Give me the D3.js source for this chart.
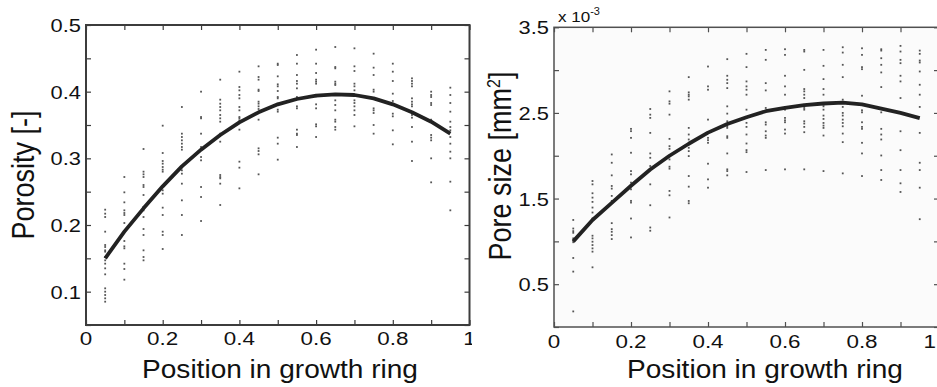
<!DOCTYPE html>
<html>
<head>
<meta charset="utf-8">
<script src="https://cdn.jsdelivr.net/npm/d3@7"></script>
<style>
  body { margin: 0; background: #fff; }
  svg { display: block; }
  text { font-family: "Liberation Sans", Arial, sans-serif; fill: #111; }
</style>
</head>
<body>
<svg id="chart" width="937" height="387"></svg>
<script>
// positions of the sample columns (fraction of growth ring)
const positions = [0.05, 0.10, 0.15, 0.20, 0.25, 0.30, 0.35, 0.40, 0.45, 0.50,
                   0.55, 0.60, 0.65, 0.70, 0.75, 0.80, 0.85, 0.90, 0.95];

// fitted curves
const porosityFit = [0.150, 0.190, 0.225, 0.258, 0.288, 0.313, 0.335, 0.354, 0.369, 0.381,
                     0.389, 0.394, 0.396, 0.395, 0.390, 0.381, 0.369, 0.355, 0.337];
const poreFit = [1.00, 1.25, 1.45, 1.65, 1.84, 2.00, 2.14, 2.27, 2.37, 2.45,
                 2.52, 2.56, 2.59, 2.61, 2.62, 2.60, 2.55, 2.50, 2.44];

// porosity samples per column [-]
const porositySamples = [
  [0.223, 0.217, 0.212, 0.19, 0.17, 0.167, 0.162, 0.16, 0.152, 0.147, 0.142, 0.135, 0.126, 0.105, 0.1, 0.095, 0.09, 0.085],
  [0.272, 0.249, 0.234, 0.222, 0.218, 0.215, 0.203, 0.176, 0.168, 0.165, 0.142, 0.134, 0.118],
  [0.314, 0.28, 0.276, 0.272, 0.26, 0.257, 0.245, 0.227, 0.222, 0.212, 0.194, 0.185, 0.162, 0.152, 0.147],
  [0.349, 0.308, 0.296, 0.292, 0.287, 0.283, 0.28, 0.252, 0.247, 0.226, 0.215, 0.19, 0.185, 0.164],
  [0.377, 0.337, 0.332, 0.327, 0.322, 0.317, 0.313, 0.282, 0.277, 0.262, 0.237, 0.215, 0.185],
  [0.4, 0.362, 0.36, 0.337, 0.317, 0.302, 0.297, 0.257, 0.242, 0.206],
  [0.418, 0.388, 0.382, 0.377, 0.372, 0.365, 0.36, 0.355, 0.337, 0.325, 0.275, 0.272, 0.27, 0.262, 0.23],
  [0.43, 0.407, 0.402, 0.395, 0.39, 0.377, 0.372, 0.362, 0.36, 0.357, 0.343, 0.295, 0.286, 0.255],
  [0.438, 0.422, 0.418, 0.403, 0.401, 0.385, 0.382, 0.378, 0.374, 0.358, 0.315, 0.311, 0.306, 0.276],
  [0.442, 0.44, 0.423, 0.411, 0.408, 0.401, 0.392, 0.39, 0.382, 0.373, 0.37, 0.331, 0.322, 0.298],
  [0.455, 0.442, 0.425, 0.416, 0.412, 0.405, 0.392, 0.378, 0.375, 0.343, 0.337, 0.335, 0.317],
  [0.463, 0.442, 0.428, 0.418, 0.415, 0.412, 0.393, 0.381, 0.375, 0.351, 0.348, 0.332],
  [0.467, 0.437, 0.435, 0.415, 0.412, 0.41, 0.395, 0.387, 0.38, 0.372, 0.358, 0.355, 0.347, 0.343],
  [0.465, 0.438, 0.431, 0.412, 0.408, 0.402, 0.394, 0.387, 0.383, 0.378, 0.372, 0.365, 0.348],
  [0.457, 0.436, 0.425, 0.403, 0.4, 0.39, 0.375, 0.372, 0.368, 0.35, 0.337],
  [0.442, 0.43, 0.416, 0.397, 0.386, 0.382, 0.38, 0.367, 0.363, 0.342, 0.321],
  [0.42, 0.416, 0.412, 0.408, 0.39, 0.385, 0.381, 0.378, 0.365, 0.361, 0.347, 0.325, 0.296],
  [0.4, 0.395, 0.392, 0.383, 0.38, 0.358, 0.335, 0.331, 0.327, 0.3, 0.264],
  [0.406, 0.395, 0.383, 0.37, 0.355, 0.347, 0.342, 0.332, 0.322, 0.31, 0.3, 0.265, 0.222]
];

// pore size samples per column [x 10^-3 mm^2]
const poreSamples = [
  [1.25, 1.15, 1.12, 1.1, 1.035, 1.007, 0.99, 0.806, 0.647, 0.182],
  [1.705, 1.666, 1.562, 1.511, 1.461, 1.395, 1.337, 1.267, 1.066, 1.035, 0.996, 0.957, 0.918, 0.88, 0.697],
  [2.015, 1.918, 1.771, 1.647, 1.616, 1.531, 1.473, 1.213, 1.143, 1.112, 1.073, 1.027],
  [2.314, 2.287, 2.209, 2.035, 1.821, 1.783, 1.686, 1.647, 1.608, 1.473, 1.453, 1.267, 1.046],
  [2.546, 2.48, 2.442, 2.267, 2.027, 1.976, 1.88, 1.849, 1.666, 1.422, 1.162, 1.124],
  [2.752, 2.635, 2.608, 2.48, 2.197, 2.112, 2.081, 2.003, 1.957, 1.872, 1.849, 1.589, 1.538, 1.279],
  [2.918, 2.74, 2.713, 2.693, 2.655, 2.325, 2.248, 2.19, 2.131, 2.093, 2.054, 1.996, 1.763, 1.639, 1.472, 1.445],
  [3.042, 2.81, 2.771, 2.422, 2.209, 2.182, 2.151, 1.907, 1.724, 1.627],
  [3.128, 2.934, 2.887, 2.848, 2.79, 2.577, 2.492, 2.403, 2.344, 2.325, 2.228, 2.209, 2.027, 1.841, 1.821, 1.771],
  [3.19, 3.035, 2.868, 2.81, 2.771, 2.713, 2.538, 2.442, 2.384, 2.337, 2.248, 2.143, 2.066, 2.042, 1.81],
  [3.236, 3.12, 2.848, 2.763, 2.558, 2.519, 2.391, 2.364, 2.286, 2.236, 2.209, 1.833],
  [3.244, 3.178, 2.934, 2.81, 2.713, 2.558, 2.538, 2.442, 2.414, 2.391, 2.306, 2.259, 1.841],
  [3.236, 3.217, 3.003, 2.779, 2.752, 2.713, 2.674, 2.558, 2.538, 2.403, 2.376, 2.337, 2.275, 1.841],
  [3.236, 3.05, 2.895, 2.779, 2.713, 2.597, 2.577, 2.538, 2.469, 2.43, 2.383, 2.352, 2.325, 2.236, 1.821],
  [3.267, 3.205, 3.062, 2.918, 2.655, 2.57, 2.5, 2.469, 2.422, 2.383, 2.344, 2.259, 2.159, 1.794],
  [3.255, 3.178, 3.035, 3.011, 2.701, 2.531, 2.507, 2.391, 2.337, 2.314, 2.151, 2.027, 1.763],
  [3.244, 3.228, 3.139, 3.062, 2.973, 2.802, 2.558, 2.507, 2.314, 2.248, 2.19, 2.003, 1.833, 1.717],
  [3.283, 3.217, 3.12, 3.081, 2.934, 2.868, 2.674, 2.286, 2.065, 1.833, 1.678, 1.577],
  [3.228, 3.19, 3.112, 3.089, 2.984, 2.829, 2.713, 2.57, 2.267, 1.918, 1.833, 1.627, 1.259]
];

// ticks and labels
const xTicks = [0, 0.1, 0.2, 0.3, 0.4, 0.5, 0.6, 0.7, 0.8, 0.9, 1];
const xTickLabels = [0, 0.2, 0.4, 0.6, 0.8, 1];
const porosityTicks = [0.05, 0.1, 0.15, 0.2, 0.25, 0.3, 0.35, 0.4, 0.45, 0.5];
const porosityTickLabels = [0.1, 0.2, 0.3, 0.4, 0.5];
const poreTicks = [0, 0.5, 1, 1.5, 2, 2.5, 3, 3.5];
const poreTickLabels = [0.5, 1.5, 2.5, 3.5];

const svg = d3.select('#chart');
const defs = svg.append('defs');
defs.append('clipPath').attr('id', 'clipLeft')
  .append('rect').attr('x', 0).attr('y', 0).attr('width', 472).attr('height', 387);

function drawPanel(cfg) {
  const g = svg.append('g').attr('clip-path', cfg.clip ? 'url(#' + cfg.clip + ')' : null);
  const x = d3.scaleLinear().domain([0, 1]).range([cfg.left, cfg.right]);
  const y = d3.scaleLinear().domain(cfg.yDomain).range([cfg.bottom, cfg.top]);

  g.append('rect')
    .attr('x', x(0)).attr('y', y(cfg.yDomain[1]))
    .attr('width', x(1) - x(0)).attr('height', y(cfg.yDomain[0]) - y(cfg.yDomain[1]))
    .attr('fill', cfg.bg);

  // scatter samples
  const pts = [];
  cfg.samples.forEach((col, i) => col.forEach(v => pts.push([positions[i], v])));
  g.append('g').selectAll('rect').data(pts).join('rect')
    .attr('x', d => x(d[0]) - 0.9)
    .attr('y', d => y(d[1]) - 0.9)
    .attr('width', 1.8).attr('height', 1.8)
    .attr('fill', '#555');

  // fitted curve
  const line = d3.line().x((d, i) => x(positions[i])).y(d => y(d));
  g.append('path').datum(cfg.fit)
    .attr('d', line)
    .attr('fill', 'none')
    .attr('stroke', '#222')
    .attr('stroke-width', 3.8)
    .attr('stroke-linejoin', 'round');

  // inward ticks on all four sides
  const tickStyle = sel => {
    sel.select('.domain').remove();
    sel.selectAll('.tick line').attr('stroke', cfg.frame).attr('stroke-width', 1.2);
  };
  g.append('g').attr('transform', 'translate(0,' + y(cfg.yDomain[0]) + ')')
    .call(d3.axisBottom(x).tickValues(xTicks).tickSize(-5).tickFormat('')).call(tickStyle);
  g.append('g').attr('transform', 'translate(0,' + y(cfg.yDomain[1]) + ')')
    .call(d3.axisTop(x).tickValues(xTicks).tickSize(-5).tickFormat('')).call(tickStyle);
  g.append('g').attr('transform', 'translate(' + x(0) + ',0)')
    .call(d3.axisLeft(y).tickValues(cfg.yTicks).tickSize(-5).tickFormat('')).call(tickStyle);
  g.append('g').attr('transform', 'translate(' + x(1) + ',0)')
    .call(d3.axisRight(y).tickValues(cfg.yTicks).tickSize(-5).tickFormat('')).call(tickStyle);

  // frame
  g.append('rect')
    .attr('x', x(0)).attr('y', y(cfg.yDomain[1]))
    .attr('width', x(1) - x(0)).attr('height', y(cfg.yDomain[0]) - y(cfg.yDomain[1]))
    .attr('fill', 'none').attr('stroke', cfg.frame).attr('stroke-width', cfg.frameWidth);

  // tick labels (the last one is kept inside the window edge)
  g.append('g').selectAll('text').data(xTickLabels).join('text')
    .attr('transform', d => {
      const px = Math.min(x(d), cfg.edge);
      return 'translate(' + px + ',' + cfg.xLabelBase + ') scale(1.18,1)';
    })
    .attr('text-anchor', d => x(d) > cfg.edge ? 'end' : 'middle')
    .attr('font-size', 19)
    .text(d => String(d));
  g.append('g').selectAll('text').data(cfg.yTickLabels).join('text')
    .attr('transform', d => 'translate(' + (x(0) - 5) + ',' + (y(d) + 7) + ') scale(1.15,1)')
    .attr('text-anchor', 'end')
    .attr('font-size', 19)
    .text(d => String(d));

  // axis titles
  g.append('text')
    .attr('transform', 'translate(' + cfg.xTitleX + ',378) scale(1.1,1)')
    .attr('text-anchor', 'middle')
    .attr('font-size', 25.5)
    .text('Position in growth ring');

  const yt = g.append('text')
    .attr('transform', 'translate(' + cfg.yTitleX + ',' + cfg.yTitleY + ') scale(1.15,1) rotate(-90)')
    .attr('text-anchor', 'middle')
    .attr('font-size', 27);
  cfg.yTitle(yt);
  return { x, y, g };
}

drawPanel({
  clip: 'clipLeft', edge: 1000,
  left: 86, right: 469.5, top: 25, bottom: 325,
  yDomain: [0.05, 0.5], yTicks: porosityTicks, yTickLabels: porosityTickLabels,
  samples: porositySamples, fit: porosityFit,
  bg: '#fff', frame: '#3c3c3c', frameWidth: 2,
  xLabelBase: 345, xTitleX: 280, yTitleX: 34, yTitleY: 175,
  yTitle: t => t.text('Porosity [-]')
});

drawPanel({
  clip: null, edge: 936,
  left: 554, right: 939, top: 27.3, bottom: 327,
  yDomain: [0, 3.5], yTicks: poreTicks, yTickLabels: poreTickLabels,
  samples: poreSamples, fit: poreFit,
  bg: '#fbfbfb', frame: '#505050', frameWidth: 1.5,
  xLabelBase: 348, xTitleX: 765, yTitleX: 511, yTitleY: 166,
  yTitle: t => {
    t.append('tspan').text('Pore size [mm');
    t.append('tspan').attr('dy', -10).attr('font-size', 16).text('2');
    t.append('tspan').attr('dy', 10).text(']');
  }
});

// exponent marker of the right y axis
const expo = svg.append('text')
  .attr('transform', 'translate(558,22) scale(1.1,1)')
  .attr('font-size', 15.5);
expo.append('tspan').text('x 10');
expo.append('tspan').attr('dy', -7).attr('font-size', 10).text('-3');
</script>
</body>
</html>
